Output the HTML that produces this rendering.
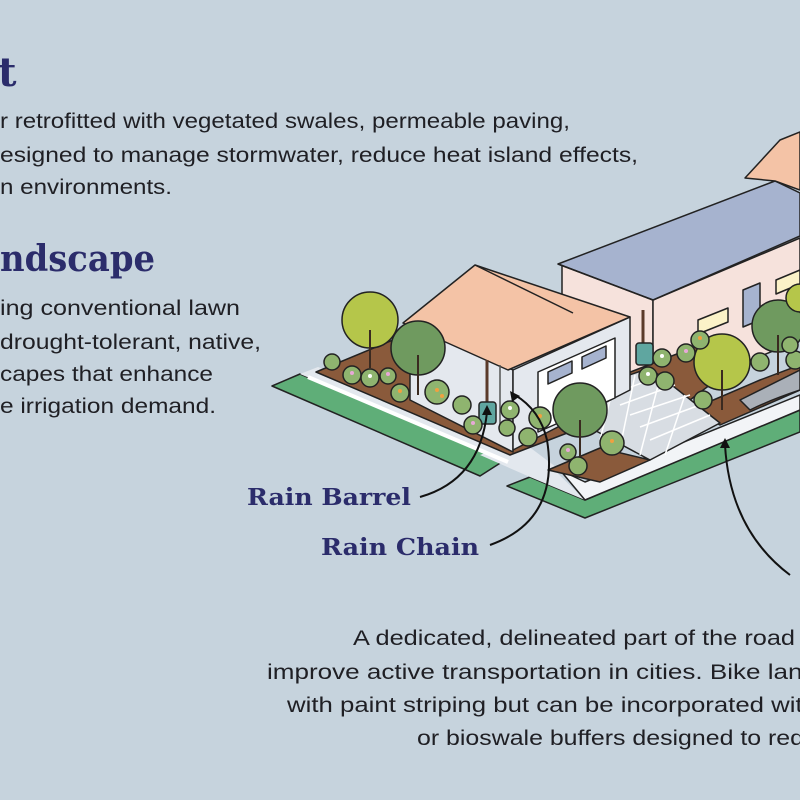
<!DOCTYPE html>
<html><head><meta charset="utf-8"><style>
html,body{margin:0;padding:0;background:#c6d3dd;}
svg{display:block}
.b{font-family:"Liberation Sans",sans-serif;font-size:21px;fill:#1f1f24}
.h{font-family:"DejaVu Serif","Liberation Serif",serif;font-weight:bold;fill:#2b2c6b}
.ol{stroke:#222;stroke-width:1.5;stroke-linejoin:round}
</style></head><body>
<svg width="800" height="800" viewBox="0 0 800 800" xmlns="http://www.w3.org/2000/svg">
<rect width="800" height="800" fill="#c6d3dd"/>
<text class="h" x="-2" y="86" font-size="40">t</text>
<text class="b" x="0" y="128" textLength="570" lengthAdjust="spacingAndGlyphs">r retrofitted with vegetated swales, permeable paving,</text>
<text class="b" x="0" y="162" textLength="638" lengthAdjust="spacingAndGlyphs">esigned to manage stormwater, reduce heat island effects,</text>
<text class="b" x="0" y="194" textLength="172" lengthAdjust="spacingAndGlyphs">n environments.</text>
<text class="h" x="0" y="271" font-size="36" textLength="155" lengthAdjust="spacingAndGlyphs">ndscape</text>
<text class="b" x="0" y="315" textLength="240" lengthAdjust="spacingAndGlyphs">ing conventional lawn</text>
<text class="b" x="0" y="349" textLength="261" lengthAdjust="spacingAndGlyphs">drought-tolerant, native,</text>
<text class="b" x="0" y="381" textLength="213" lengthAdjust="spacingAndGlyphs">capes that enhance</text>
<text class="b" x="0" y="413" textLength="216" lengthAdjust="spacingAndGlyphs">e irrigation demand.</text>

<text class="b" x="353" y="645" textLength="442" lengthAdjust="spacingAndGlyphs">A dedicated, delineated part of the road</text>
<text class="b" x="267" y="679" textLength="563" lengthAdjust="spacingAndGlyphs">improve active transportation in cities. Bike lanes</text>
<text class="b" x="287" y="712" textLength="530" lengthAdjust="spacingAndGlyphs">with paint striping but can be incorporated with</text>
<text class="b" x="417" y="745" textLength="387" lengthAdjust="spacingAndGlyphs">or bioswale buffers designed to red</text>

<text class="h" x="247" y="505" font-size="23" textLength="164" lengthAdjust="spacingAndGlyphs">Rain Barrel</text>
<text class="h" x="321" y="555" font-size="23" textLength="158" lengthAdjust="spacingAndGlyphs">Rain Chain</text>

<polygon points="272,386 300,374 505,460 480,476" fill="#5fae78" class="ol"/>
<polygon points="507,486 530,477 585,500 800,410 800,432 585,518" fill="#5fae78" class="ol"/>
<polygon points="300,374 318,367 540,456 585,500 530,477 505,460" fill="#e3e8ee"/>
<polygon points="480,455 520,440 560,470 530,477" fill="#e3e8ee"/>
<polygon points="560,470 585,500 800,410 800,395 585,482" fill="#f2f4f7" class="ol"/>
<!-- big house -->
<polygon points="562,263 653,300 653,395 562,360" fill="#f6e2dc" class="ol"/>
<polygon points="653,300 800,238 800,340 653,400" fill="#f6e2dc" class="ol"/>
<polygon points="558,264 775,181 800,193 800,236 653,300" fill="#a6b3cf" class="ol"/>
<line x1="558" y1="264" x2="653" y2="300" stroke="#222" stroke-width="1.5"/>
<polygon points="745,178 780,140 800,132 800,190 775,181" fill="#f4c3a6" class="ol"/>
<polygon points="743,290 760,283 760,320 743,327" fill="#a6b3cf" class="ol"/>
<polygon points="698,320 728,308 728,322 698,334" fill="#fbf2c8" class="ol"/>
<polygon points="776,280 800,270 800,284 776,294" fill="#fbf2c8" class="ol"/>
<polygon points="615,378 700,345 740,362 690,400" fill="#8a5a3b" class="ol"/>
<polygon points="690,410 760,380 800,365 800,390 720,425" fill="#8a5a3b" class="ol"/>
<path d="M740,400 Q770,385 800,370 L800,390 Q770,400 750,410 Z" fill="#aab0b8" class="ol"/>
<polygon points="316,372 405,335 575,430 510,455" fill="#8a5a3b" class="ol"/>
<line x1="308" y1="377" x2="508" y2="462" stroke="#fff" stroke-width="4"/>
<polygon points="600,385 650,368 720,423 650,460 585,425" fill="#d8dde3" class="ol"/>
<g stroke="#fff" stroke-width="1.5">
<line x1="610" y1="395" x2="660" y2="376"/><line x1="620" y1="405" x2="675" y2="385"/><line x1="630" y1="415" x2="690" y2="395"/><line x1="640" y1="427" x2="700" y2="405"/><line x1="650" y1="440" x2="710" y2="415"/>
<line x1="615" y1="380" x2="600" y2="440"/><line x1="635" y1="375" x2="620" y2="448"/><line x1="660" y1="378" x2="640" y2="455"/><line x1="685" y1="395" x2="665" y2="455"/>
</g>
<polygon points="548,470 600,448 650,460 600,482" fill="#8a5a3b" class="ol"/>
<!-- garage -->
<polygon points="410,325 513,370 513,452 410,400" fill="#e4e8ee" class="ol"/>
<polygon points="513,370 630,317 630,390 513,450" fill="#e4e8ee" class="ol"/>
<polygon points="538,372 615,338 615,398 538,432" fill="#fff" class="ol"/>
<polygon points="548,372 572,361 572,373 548,384" fill="#a6b3cf" class="ol"/>
<polygon points="582,357 606,346 606,358 582,369" fill="#a6b3cf" class="ol"/>
<polygon points="403,323 475,265 630,317 508,370" fill="#f4c3a6" class="ol"/>
<line x1="475" y1="265" x2="573" y2="313" stroke="#222" stroke-width="1.5"/>
<line x1="487" y1="360" x2="487" y2="410" stroke="#5a3a2a" stroke-width="3"/>
<line x1="500" y1="365" x2="500" y2="430" stroke="#555" stroke-width="1.5"/>
<line x1="643" y1="310" x2="643" y2="350" stroke="#5a3a2a" stroke-width="3"/>
<rect x="479" y="402" width="17" height="22" rx="3" fill="#5fa6a0" class="ol"/>
<rect x="636" y="343" width="17" height="22" rx="3" fill="#5fa6a0" class="ol"/>
<g class="ol">
<circle cx="370" cy="320" r="28" fill="#b5c64a"/>
<circle cx="418" cy="348" r="27" fill="#6f9a5f"/>
<circle cx="580" cy="410" r="27" fill="#6f9a5f"/>
<circle cx="722" cy="362" r="28" fill="#b5c64a"/>
<circle cx="778" cy="326" r="26" fill="#6f9a5f"/>
<circle cx="800" cy="298" r="14" fill="#b5c64a"/>
</g>
<g stroke="#3a2a20" stroke-width="2">
<line x1="370" y1="330" x2="370" y2="368"/><line x1="418" y1="355" x2="418" y2="395"/>
<line x1="580" y1="420" x2="580" y2="465"/><line x1="722" y1="370" x2="722" y2="410"/><line x1="778" y1="335" x2="778" y2="375"/>
</g>
<g class="ol" fill="#8fb46f">
<circle cx="332" cy="362" r="8"/><circle cx="352" cy="375" r="9"/><circle cx="370" cy="378" r="9"/><circle cx="388" cy="376" r="8"/>
<circle cx="400" cy="393" r="9"/><circle cx="437" cy="392" r="12"/><circle cx="462" cy="405" r="9"/><circle cx="473" cy="425" r="9"/>
<circle cx="507" cy="428" r="8"/><circle cx="510" cy="410" r="9"/><circle cx="540" cy="418" r="11"/><circle cx="528" cy="437" r="9"/>
<circle cx="568" cy="452" r="8"/><circle cx="578" cy="466" r="9"/><circle cx="612" cy="443" r="12"/>
<circle cx="662" cy="358" r="9"/><circle cx="648" cy="376" r="9"/><circle cx="665" cy="381" r="9"/><circle cx="686" cy="353" r="9"/><circle cx="700" cy="340" r="9"/>
<circle cx="703" cy="400" r="9"/><circle cx="760" cy="362" r="9"/><circle cx="795" cy="360" r="9"/><circle cx="790" cy="345" r="8"/>
</g>
<g fill="#f0a040"><circle cx="437" cy="390" r="2"/><circle cx="442" cy="396" r="2"/><circle cx="540" cy="416" r="2"/><circle cx="612" cy="441" r="2"/><circle cx="700" cy="338" r="2"/><circle cx="400" cy="391" r="2"/></g>
<g fill="#e8a8d8"><circle cx="352" cy="373" r="2"/><circle cx="388" cy="374" r="2"/><circle cx="473" cy="423" r="2"/><circle cx="568" cy="450" r="2"/><circle cx="686" cy="351" r="2"/></g>
<g fill="#fff"><circle cx="370" cy="376" r="2"/><circle cx="510" cy="408" r="2"/><circle cx="662" cy="356" r="2"/><circle cx="648" cy="374" r="2"/></g>
<g fill="none" stroke="#111" stroke-width="2">
<path d="M420,497 Q480,480 487,412"/>
<path d="M490,545 Q560,520 547,440 Q540,410 515,395"/>
<path d="M790,575 Q730,530 725,445"/>
</g>
<g fill="#111">
<polygon points="487,405 482,415 492,415"/>
<polygon points="510,391 512,402 520,396"/>
<polygon points="725,438 720,448 730,448"/>
</g>
</svg>
</body></html>
